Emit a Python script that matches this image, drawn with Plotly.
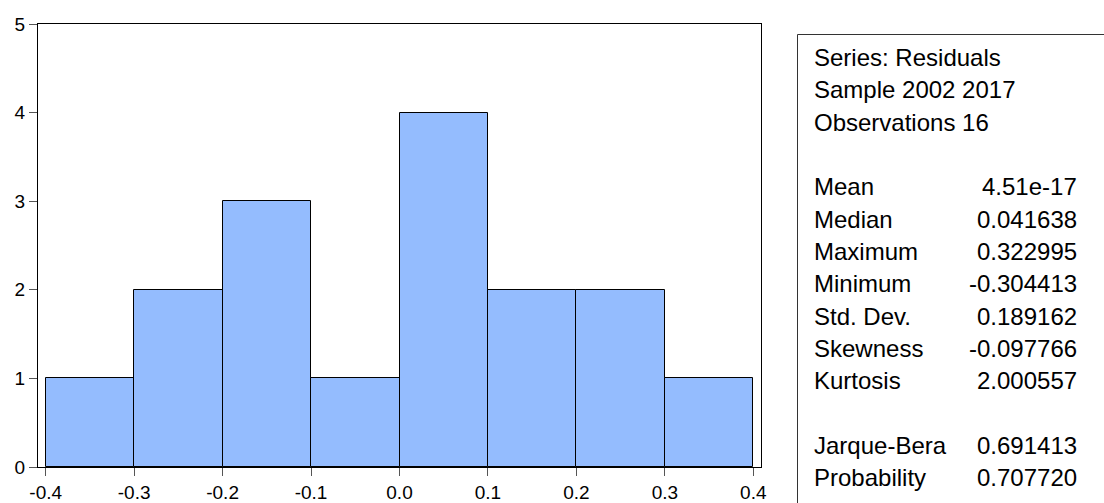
import plotly.graph_objects as go

# Histogram of residuals: bin edges and counts per bin
bin_edges = [-0.4, -0.3, -0.2, -0.1, 0.0, 0.1, 0.2, 0.3, 0.4]
counts = [1, 2, 3, 1, 4, 2, 2, 1]

x_tick_vals = [-0.4, -0.3, -0.2, -0.1, 0.0, 0.1, 0.2, 0.3, 0.4]
x_tick_text = ["-0.4", "-0.3", "-0.2", "-0.1", "0.0", "0.1", "0.2", "0.3", "0.4"]
y_tick_vals = [0, 1, 2, 3, 4, 5]

# Descriptive statistics panel
header_lines = ["Series: Residuals", "Sample 2002 2017", "Observations 16"]
stat_names = ["Mean", "Median", "Maximum", "Minimum", "Std. Dev.", "Skewness", "Kurtosis"]
stat_values = ["4.51e-17", "0.041638", "0.322995", "-0.304413", "0.189162", "-0.097766", "2.000557"]
test_names = ["Jarque-Bera", "Probability"]
test_values = ["0.691413", "0.707720"]

FONT = "Liberation Sans, Arial, sans-serif"
W, H = 1104, 503
ML, MR, MT, MB = 38, 343, 24, 36
PW, PH = W - ML - MR, H - MT - MB

centers = [(a + b) / 2 for a, b in zip(bin_edges[:-1], bin_edges[1:])]
widths = [b - a for a, b in zip(bin_edges[:-1], bin_edges[1:])]

fig = go.Figure(
    go.Bar(
        x=centers,
        y=counts,
        width=widths,
        marker=dict(color="#94BCFE", line=dict(color="#000000", width=1)),
        hoverinfo="x+y",
    )
)


def px_to_paper_x(px):
    return (px - ML) / PW


def px_to_paper_y(py):
    return (H - MB - py) / PH


# Stats box frame (runs off the right and bottom edges)
fig.add_shape(
    type="rect", xref="paper", yref="paper",
    x0=px_to_paper_x(797.5), x1=px_to_paper_x(1120),
    y0=px_to_paper_y(520), y1=px_to_paper_y(34.5),
    line=dict(color="#333333", width=1), fillcolor="rgba(0,0,0,0)",
)

STAT_FONT = 24
row_step = 32.3
first_baseline = 66
label_x = px_to_paper_x(812)
value_x = px_to_paper_x(1079)

rows = []
for name in header_lines:
    rows.append((name, None))
rows.append((None, None))
for n, v in zip(stat_names, stat_values):
    rows.append((n, v))
rows.append((None, None))
for n, v in zip(test_names, test_values):
    rows.append((n, v))

for k, (name, val) in enumerate(rows):
    baseline = first_baseline + row_step * k
    yc = px_to_paper_y(baseline - 0.3465 * STAT_FONT)
    if name:
        fig.add_annotation(
            x=label_x, y=yc, xref="paper", yref="paper",
            xanchor="left", yanchor="middle", text=name, showarrow=False,
            font=dict(family=FONT, size=STAT_FONT, color="#000000"),
        )
    if val:
        fig.add_annotation(
            x=value_x, y=yc, xref="paper", yref="paper",
            xanchor="right", yanchor="middle", text=val, showarrow=False,
            font=dict(family=FONT, size=STAT_FONT, color="#000000"),
        )

fig.update_layout(
    width=W, height=H,
    margin=dict(l=ML, r=MR, t=MT, b=MB, pad=0, autoexpand=False),
    paper_bgcolor="white", plot_bgcolor="white",
    showlegend=False, bargap=0,
    font=dict(family=FONT, size=19, color="#000000"),
)
fig.update_xaxes(
    range=[-0.4087, 0.4087],
    tickvals=x_tick_vals, ticktext=x_tick_text,
    ticks="outside", ticklen=8, tickcolor="#555555", tickwidth=1,
    automargin=False,
    showline=True, mirror=True, linecolor="#000000", linewidth=1,
    showgrid=False, zeroline=False,
    tickfont=dict(family=FONT, size=19, color="#000000"),
)
fig.update_yaxes(
    range=[0, 5],
    tickvals=y_tick_vals, automargin=False,
    ticks="outside", ticklen=8, tickcolor="#555555", tickwidth=1,
    showline=True, mirror=True, linecolor="#000000", linewidth=1,
    showgrid=False, zeroline=False,
    tickfont=dict(family=FONT, size=19, color="#000000"),
)

fig.write_html("out.html")
